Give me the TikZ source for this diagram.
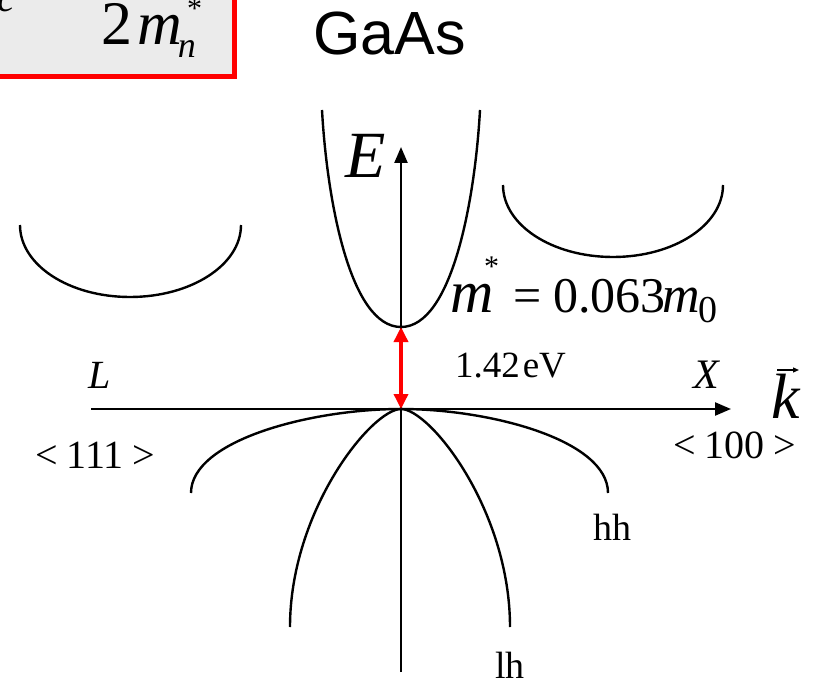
\documentclass[tikz,border=0pt]{standalone}
\usepackage{fontspec}
\setmainfont{Liberation Serif}
\newfontfamily\arialfont{Liberation Sans}
\newfontfamily\timesfont{Liberation Serif}
\usetikzlibrary{arrows.meta}
\newcommand\myfs[1]{\fontsize{#1pt}{#1pt}\selectfont}
\begin{document}
\begin{tikzpicture}[x=1pt,y=-1pt,
  curve/.style={line width=2.4pt},
  axis/.style={line width=2.4pt,-{Triangle[length=16pt,width=13pt]}},
  gap/.style={red,line width=3.5pt,{Triangle[length=15pt,width=14pt]}-{Triangle[length=15pt,width=14pt]}},
  lbl/.style={inner sep=0pt,outer sep=0pt,anchor=base west,font=\timesfont},
  boxst/.style={draw=red,fill=black!8,line width=5pt},
  vecarrow/.style={line width=1.3pt,-{Triangle[length=6pt,width=5pt]}},
]
\useasboundingbox (0,0) rectangle (817,682);
% formula box (cut off)
\draw[boxst] (-20,-20) rectangle (234.5,76.5);
\node[lbl] (csub) at (-2,12) {\myfs{40}\textit{c}};
\node[lbl] (den) at (101,45) {\myfs{62}2\hspace{5pt}\textit{m}\hspace{-4pt}\raisebox{-13pt}{\myfs{36}\textit{n}}};
\node[lbl] (star) at (187,19) {\myfs{30}*};
\node[lbl,font=\arialfont] (title) at (313,55) {\myfs{61}GaAs};
% coordinates
\coordinate (O) at (401,409);
\coordinate (cb) at (401,327);
\coordinate (kl) at (91,409);
\coordinate (kr) at (731,409);
\coordinate (eb) at (401,672);
\coordinate (et) at (401,147);
% axes
\draw[axis] (kl) -- (kr);
\draw[axis] (eb) -- (et);
% conduction band (Gamma)
\draw[curve] (322,110) .. controls (327,200) and (350,327) .. (cb)
  .. controls (452,327) and (475,200) .. (480,110);
% L valley
\draw[curve] (20,225) .. controls (20,265) and (69,297) .. (130,297)
  .. controls (191,297) and (241,265) .. (241,225);
% X valley
\draw[curve] (503,185) .. controls (503,225) and (552,257) .. (613,257)
  .. controls (674,257) and (723,225) .. (723,185);
% heavy hole
\draw[curve] (191,493) .. controls (191,440) and (312,409) .. (O)
  .. controls (490,409) and (608,440) .. (608,493);
% light hole
\draw[curve] (290,627) .. controls (290,510) and (372,409) .. (O)
  .. controls (430,409) and (510,510) .. (510,627);
% gap arrow
\draw[gap] (O) -- (cb);
% labels
\node[lbl] (E) at (345,178) {\myfs{66}\textit{E}};
\node[lbl] (mA) at (450,312) {\myfs{60}\textit{m}};
\node[lbl] (mAstar) at (484,276) {\myfs{30}*};
\node[lbl] (eqv) at (513,312) {\myfs{50}=\hspace{12pt}0.063};
\node[lbl] (mB) at (662,312) {\myfs{52}\textit{m}};
\node[lbl] (mBsub) at (698,322) {\myfs{38}0};
\node[lbl] (eg) at (455,377) {\myfs{37}1.42\hspace{3pt}eV};
\node[lbl] (L) at (88,388) {\myfs{40}\textit{L}};
\node[lbl] (X) at (693,388) {\myfs{42}\textit{X}};
\node[lbl] (k) at (771,418) {\myfs{64}\textit{k}};
\draw[vecarrow] ([shift={(6,-48)}]k.base west) -- ([shift={(28,-48)}]k.base west);
\node[lbl] (d100) at (673,458) {\myfs{40}<\hspace{9pt}100\hspace{9pt}>};
\node[lbl] (d111) at (35,468) {\myfs{40}<\hspace{9pt}111\hspace{9pt}>};
\node[lbl] (hh) at (593,540) {\myfs{38}hh};
\node[lbl] (lh) at (495,678) {\myfs{38}lh};
\end{tikzpicture}
\end{document}
